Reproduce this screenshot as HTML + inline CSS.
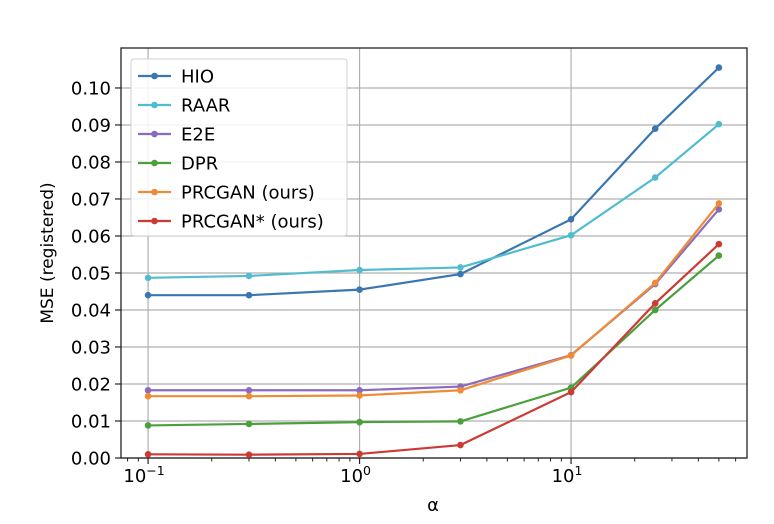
<!DOCTYPE html>
<html><head><meta charset="utf-8"><style>
body{margin:0;background:#fff;}
svg text{font-family:"DejaVu Sans","Liberation Sans",sans-serif;fill:#000;}
</style></head><body>
<svg id="chart" width="774" height="519" xmlns="http://www.w3.org/2000/svg"></svg>
<script>
const alphas=[0.1,0.3,1,3,10,25,50];
const seriesNames=["HIO","RAAR","E2E","DPR","PRCGAN (ours)","PRCGAN* (ours)"];
const hio=[0.0440,0.0440,0.0455,0.0497,0.0645,0.0890,0.1055];
const raar=[0.0487,0.0492,0.0508,0.0515,0.0602,0.0758,0.0902];
const e2e=[0.0183,0.0183,0.0183,0.0193,0.0278,0.0470,0.0672];
const dpr=[0.0088,0.0092,0.0097,0.0099,0.0190,0.0400,0.0547];
const prcgan=[0.0167,0.0167,0.0169,0.0183,0.0277,0.0473,0.0688];
const prcganStar=[0.0010,0.0009,0.0011,0.0035,0.0178,0.0418,0.0578];
const yTicks=[0,0.01,0.02,0.03,0.04,0.05,0.06,0.07,0.08,0.09,0.10];
const xTickExps=[-1,0,1];
const colors=["#3a76b2","#52bccf","#8b6bbf","#4c9f3d","#f08b35","#cb3b34"];
const allSeries=[hio,raar,e2e,dpr,prcgan,prcganStar];

const L=121,R=747,T=48,B=458;
const xmin=-1.128,xmax=1.832,ymin=0,ymax=0.1108;
const X=v=>L+(Math.log10(v)-xmin)/(xmax-xmin)*(R-L);
const Y=v=>B-(v-ymin)/(ymax-ymin)*(B-T);
const svg=document.getElementById('chart');
const NS="http://www.w3.org/2000/svg";
function el(tag,attrs,parent){const e=document.createElementNS(NS,tag);for(const k in attrs)e.setAttribute(k,attrs[k]);(parent||svg).appendChild(e);return e;}

yTicks.forEach(t=>{
  const g=el('line',{x1:L,x2:R,y1:Y(t),y2:Y(t),stroke:'#b0b0b0','stroke-width':1.2});
  
  
  el('line',{x1:L-6,x2:L,y1:Y(t),y2:Y(t),stroke:'#222','stroke-width':1.2});
  const tx=el('text',{x:L-10,y:Y(t)+6.5,'text-anchor':'end','font-size':18});
  tx.textContent=t.toFixed(2);
  
  
});
xTickExps.forEach(e=>{
  const x=X(Math.pow(10,e));
  const g=el('line',{x1:x,x2:x,y1:T,y2:B,stroke:'#b0b0b0','stroke-width':1.2});
  
  
  el('line',{x1:x,x2:x,y1:B,y2:B+6,stroke:'#222','stroke-width':1.2});
  const tx=el('text',{x:x-4,y:B+24,'text-anchor':'middle','font-size':18});
  tx.textContent='10';
  const sup=el('tspan',{dy:-7,'font-size':12.5},tx);sup.textContent=e<0?'\u2212'+(-e):String(e);
  
  
});
for(let d=-2;d<=1;d++)for(let m=2;m<=9;m++){const v=m*Math.pow(10,d);const lv=Math.log10(v);if(lv<xmin||lv>xmax)continue;el('line',{x1:X(v),x2:X(v),y1:B,y2:B+3.5,stroke:'#222'});}
const fr=el('rect',{x:L,y:T,width:R-L,height:B-T,fill:'none',stroke:'#222','stroke-width':1.3});



allSeries.forEach((s,i)=>{
  const pts=s.map((v,j)=>X(alphas[j])+','+Y(v)).join(' ');
  const p=el('polyline',{points:pts,fill:'none',stroke:colors[i],'stroke-width':2.2});
  
  
  s.forEach((v,j)=>{const c=el('circle',{cx:X(alphas[j]),cy:Y(v),r:3.3,fill:colors[i]});
    
    });
});

const lg=el('rect',{x:131,y:59,width:216,height:177,rx:3,fill:'#fff','fill-opacity':0.85,stroke:'#d0d0d0'});


seriesNames.forEach((n,i)=>{
  const y=76+i*29;
  el('line',{x1:138,x2:171,y1:y,y2:y,stroke:colors[i],'stroke-width':2.2});
  el('circle',{cx:154.5,cy:y,r:3.3,fill:colors[i]});
  const t=el('text',{x:181,y:y+6.5,'font-size':18});t.textContent=n;
  
  
});

const xt=el('text',{x:(L+R)/2-1,y:511,'text-anchor':'middle','font-size':18});xt.textContent='\u03b1';


const yt=el('text',{x:0,y:0,'text-anchor':'middle','font-size':17,transform:'translate(53,'+((T+B)/2)+') rotate(-90)'});yt.textContent='MSE (registered)';


</script>
</body></html>
